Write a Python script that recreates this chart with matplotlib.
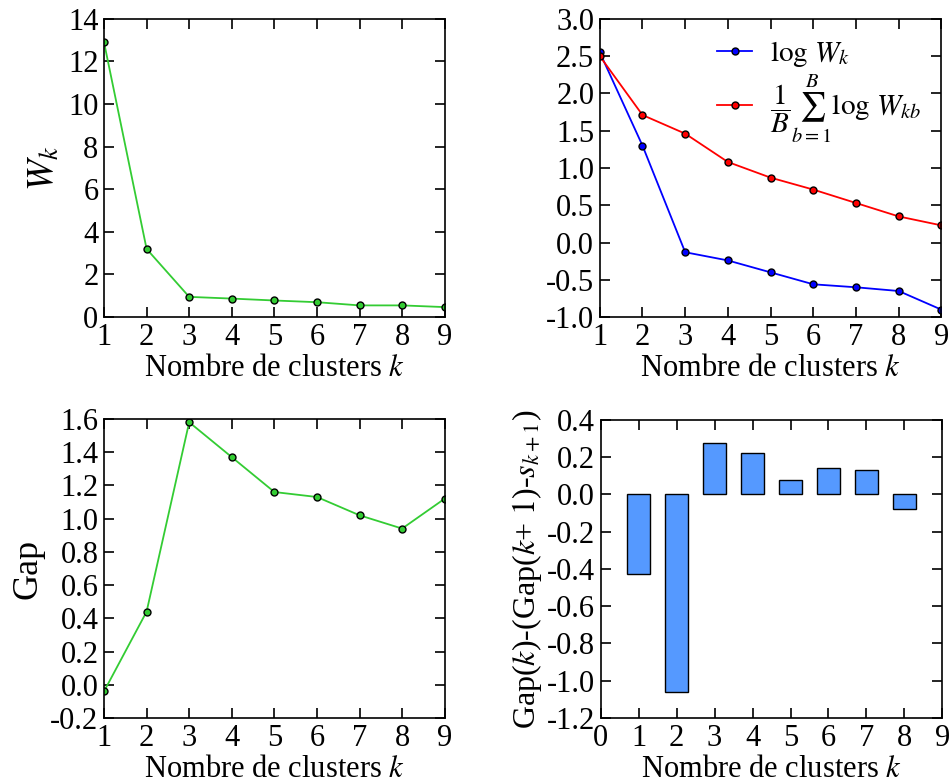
import matplotlib
matplotlib.use("Agg")
import matplotlib.pyplot as plt
import numpy as np

plt.rcParams['font.family'] = 'Liberation Serif'
plt.rcParams['mathtext.fontset'] = 'stix'

# ---------------- donnees ----------------
k = [1, 2, 3, 4, 5, 6, 7, 8, 9]
W_k = [12.9, 3.2, 0.95, 0.87, 0.78, 0.70, 0.55, 0.55, 0.47]
log_W = [2.55, 1.30, -0.13, -0.24, -0.40, -0.56, -0.60, -0.65, -0.90]
log_W_ref = [2.50, 1.71, 1.46, 1.08, 0.87, 0.71, 0.53, 0.35, 0.23]
gap = [-0.04, 0.44, 1.58, 1.37, 1.16, 1.13, 1.02, 0.94, 1.12]
k_bar = [1, 2, 3, 4, 5, 6, 7, 8]
diff = [-0.43, -1.06, 0.275, 0.22, 0.075, 0.14, 0.13, -0.08]

green = '#33cc33'
xlab = 'Nombre de clusters $k$'

fig = plt.figure(figsize=(9.49, 7.83), dpi=100)
ax1 = fig.add_axes([0.1096, 0.595, 0.359, 0.381])
ax2 = fig.add_axes([0.632, 0.595, 0.360, 0.381])
ax3 = fig.add_axes([0.1096, 0.083, 0.359, 0.382])
ax4 = fig.add_axes([0.633, 0.083, 0.360, 0.381])

def fmt(v):
    v = round(v, 1)
    if abs(v) < 1e-9:
        v = 0.0
    return '%.1f' % v

def style(ax):
    ax.tick_params(direction='in', top=True, right=True, labelsize=22,
                   length=7, width=1.2, pad=4)
    for s in ax.spines.values():
        s.set_linewidth(1.2)
    ax.set_xlabel(xlab, fontsize=22, labelpad=2)

# 1. W_k
ax1.plot(k, W_k, color=green, lw=1.3, marker='o', ms=5,
         mfc=green, mec='k', mew=1.0)
ax1.set_xlim(1, 9)
ax1.set_ylim(0, 14)
ax1.set_xticks(k)
ax1.set_yticks(np.arange(0, 15, 2))
ax1.set_ylabel('$W_k$', fontsize=27)
style(ax1)

# 2. log W_k et reference
ax2.plot(k, log_W, color='blue', lw=1.3, marker='o', ms=5,
         mfc='blue', mec='k', mew=1.0, label=r'$\log\,W_k$')
ax2.plot(k, log_W_ref, color='red', lw=1.3, marker='o', ms=5,
         mfc='red', mec='k', mew=1.0,
         label=r'$\dfrac{1}{B}\sum_{b=1}^{B}\log\,W_{kb}$')
ax2.set_xlim(1, 9)
ax2.set_ylim(-1, 3)
ax2.set_xticks(k)
yt = np.arange(-1, 3.01, 0.5)
ax2.set_yticks(yt)
ax2.set_yticklabels([fmt(v) for v in yt])
ax2.legend(loc='upper right', frameon=False, fontsize=21,
           handlelength=1.2, handletextpad=0.6, labelspacing=0.1,
           borderaxespad=0.3)
style(ax2)

# 3. Gap
ax3.plot(k, gap, color=green, lw=1.3, marker='o', ms=5,
         mfc=green, mec='k', mew=1.0)
ax3.set_xlim(1, 9)
ax3.set_ylim(-0.2, 1.6)
ax3.set_xticks(k)
yt = np.arange(-0.2, 1.61, 0.2)
ax3.set_yticks(yt)
ax3.set_yticklabels([fmt(v) for v in yt])
ax3.set_ylabel('Gap', fontsize=26)
style(ax3)

# 4. critere
ax4.bar(k_bar, diff, width=0.62, color='#5599ff', edgecolor='k', lw=1.0)
ax4.set_xlim(0, 9)
ax4.set_ylim(-1.2, 0.4)
ax4.set_xticks(range(10))
yt = np.arange(-1.2, 0.41, 0.2)
ax4.set_yticks(yt)
ax4.set_yticklabels([fmt(v) for v in yt])
ax4.set_ylabel(r'Gap($k$)-(Gap($k$+ $\mathit{1}$)-$s_{k+\mathit{1}}$)',
               fontsize=23, labelpad=2)
style(ax4)

fig.savefig('out.png', dpi=100)
